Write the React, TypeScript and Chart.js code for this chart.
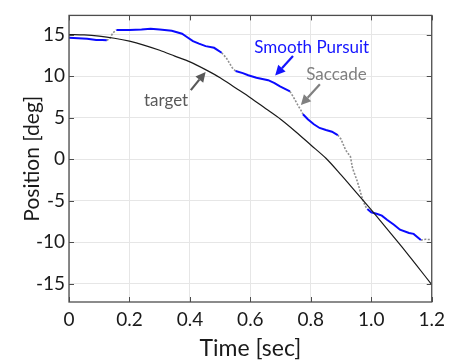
import { useEffect, useRef } from "react";
import { Chart, registerables } from "chart.js";

Chart.register(...registerables);

// ---- data ----
const targetTime = [0, 0.05, 0.1, 0.15, 0.2, 0.25, 0.3, 0.35, 0.4, 0.45, 0.5, 0.55, 0.6, 0.65, 0.7, 0.75, 0.8, 0.85, 0.9, 0.95, 1.0, 1.05, 1.1, 1.15, 1.2];
const targetPos = [15.0, 14.95, 14.8, 14.55, 14.2, 13.7, 13.1, 12.4, 11.7, 10.8, 9.8, 8.6, 7.4, 6.1, 4.8, 3.3, 1.7, 0.1, -1.9, -4.0, -6.1, -8.3, -10.5, -12.8, -15.1];

// smooth pursuit segments (null = gap between segments)
const pursuitTime = [
  0, 0.03, 0.06, 0.09, 0.11, 0.125, 0.14,
  0.157, 0.2, 0.24, 0.27, 0.3, 0.34, 0.374, 0.39, 0.41, 0.43, 0.452, 0.48, 0.505, 0.52,
  0.551, 0.575, 0.593, 0.62, 0.659, 0.68, 0.698, 0.731, 0.75,
  0.774, 0.79, 0.81, 0.829, 0.85, 0.87, 0.889, 0.93,
  0.987, 1.0, 1.02, 1.035, 1.052, 1.075, 1.095, 1.125, 1.14, 1.164,
];
const pursuitPos = [
  14.6, 14.55, 14.5, 14.35, 14.35, 14.3, null,
  15.55, 15.55, 15.6, 15.7, 15.6, 15.45, 15.1, 14.7, 14.2, 13.9, 13.6, 13.4, 12.8, null,
  10.6, 10.35, 10.1, 9.8, 9.5, 9.15, 8.75, 8.15, null,
  5.4, 4.8, 4.2, 3.75, 3.5, 3.3, 2.9, null,
  -6.0, -6.4, -6.6, -6.8, -7.3, -7.9, -8.5, -8.9, -9.0, -9.75,
];

// saccade segments (null = gap)
const saccadeTime = [
  0.125, 0.135, 0.145, 0.157, 0.17,
  0.505, 0.52, 0.53, 0.54, 0.551, 0.56,
  0.731, 0.745, 0.757, 0.767, 0.774, 0.78,
  0.889, 0.9, 0.915, 0.931, 0.938, 0.954, 0.97, 0.98, 0.987, 0.99,
  1.164, 1.18, 1.2,
];
const saccadePos = [
  14.3, 14.5, 15.2, 15.55, null,
  12.8, 12.2, 11.6, 11.0, 10.6, null,
  8.15, 7.3, 6.5, 5.9, 5.4, null,
  2.9, 2.4, 1.1, 0.3, -1.1, -2.7, -4.7, -5.65, -6.0, null,
  -9.75, -9.65, -9.7,
];

const xTicks = [0, 0.2, 0.4, 0.6, 0.8, 1.0, 1.2];
const xTickLabels = ["0", "0.2", "0.4", "0.6", "0.8", "1.0", "1.2"];
const yTicks = [-15, -10, -5, 0, 5, 10, 15];
const yTickLabels = ["-15", "-10", "-5", "0", "5", "10", "15"];

const annotationTexts = ["Smooth Pursuit", "Saccade", "target"];
const annotationColors = ["#1414ff", "#808080", "#595959"];
const annotationTextAt = [[0.803, 13.4], [0.885, 10.2], [0.321, 7.1]];
const annotationArrowFrom = [[0.741, 12.4], [0.83, 9.0], [0.403, 8.3]];
const annotationArrowTo = [[0.682, 10.06], [0.767, 6.5], [0.452, 10.5]];

const FONT = "Lato, 'Open Sans', sans-serif";

const toXY = (xs: number[], ys: (number | null)[]) => xs.map((x, i) => ({ x, y: ys[i] }));

const framePlugin = {
  id: "frame",
  afterDatasetsDraw(chart: any) {
    const { ctx, chartArea: a, scales } = chart;
    ctx.save();
    ctx.strokeStyle = "#4d4d4d";
    ctx.lineWidth = 1.3;
    ctx.strokeRect(a.left, a.top, a.right - a.left, a.bottom - a.top);
    const L = 5;
    ctx.beginPath();
    xTicks.forEach((v) => {
      const px = Math.round(scales.x.getPixelForValue(v)) + 0.5;
      ctx.moveTo(px, a.bottom);
      ctx.lineTo(px, a.bottom - L);
      ctx.moveTo(px, a.top);
      ctx.lineTo(px, a.top + L);
    });
    yTicks.forEach((v) => {
      const py = Math.round(scales.y.getPixelForValue(v)) + 0.5;
      ctx.moveTo(a.left, py);
      ctx.lineTo(a.left + L, py);
      ctx.moveTo(a.right, py);
      ctx.lineTo(a.right - L, py);
    });
    ctx.lineWidth = 1;
    ctx.stroke();
    ctx.restore();
  },
};

const annotationPlugin = {
  id: "arrows",
  afterDraw(chart: any) {
    const { ctx, scales } = chart;
    const X = (v: number) => scales.x.getPixelForValue(v);
    const Y = (v: number) => scales.y.getPixelForValue(v);
    ctx.save();
    annotationTexts.forEach((text, i) => {
      const color = annotationColors[i];
      ctx.fillStyle = color;
      ctx.strokeStyle = color;
      ctx.font = `17px ${FONT}`;
      ctx.textAlign = "center";
      ctx.textBaseline = "middle";
      ctx.fillText(text, X(annotationTextAt[i][0]), Y(annotationTextAt[i][1]));
      const x1 = X(annotationArrowFrom[i][0]);
      const y1 = Y(annotationArrowFrom[i][1]);
      const x2 = X(annotationArrowTo[i][0]);
      const y2 = Y(annotationArrowTo[i][1]);
      const ang = Math.atan2(y2 - y1, x2 - x1);
      const head = 10;
      const hw = 5;
      const bx = x2 - head * Math.cos(ang);
      const by = y2 - head * Math.sin(ang);
      ctx.lineWidth = 2.2;
      ctx.beginPath();
      ctx.moveTo(x1, y1);
      ctx.lineTo(bx, by);
      ctx.stroke();
      ctx.beginPath();
      ctx.moveTo(x2, y2);
      ctx.lineTo(bx + hw * Math.sin(ang), by - hw * Math.cos(ang));
      ctx.lineTo(bx - hw * Math.sin(ang), by + hw * Math.cos(ang));
      ctx.closePath();
      ctx.fill();
    });
    ctx.restore();
  },
};

export default function App() {
  const ref = useRef<HTMLCanvasElement | null>(null);
  useEffect(() => {
    if (!ref.current) return;
    const chart = new Chart(ref.current, {
      type: "line",
      data: {
        datasets: [
          {
            label: "target",
            data: toXY(targetTime, targetPos),
            borderColor: "#1a1a1a",
            borderWidth: 1.2,
            pointRadius: 0,
            tension: 0.3,
          },
          {
            label: "Smooth Pursuit",
            data: toXY(pursuitTime, pursuitPos),
            borderColor: "#0a0aff",
            borderWidth: 2,
            pointRadius: 0,
            spanGaps: false,
          },
          {
            label: "Saccade",
            data: toXY(saccadeTime, saccadePos),
            borderColor: "#8f8f8f",
            borderWidth: 1.6,
            borderDash: [2, 1.5],
            pointRadius: 0,
            spanGaps: false,
          },
        ] as any,
      },
      options: {
        animation: false,
        responsive: false,
        devicePixelRatio: 1,
        layout: { padding: { top: 13, right: 17, left: 0, bottom: 0 } },
        plugins: { legend: { display: false }, tooltip: { enabled: false } },
        scales: {
          x: {
            type: "linear",
            min: 0,
            max: 1.2,
            afterBuildTicks: (s: any) => {
              s.ticks = xTicks.map((value) => ({ value }));
            },
            afterFit: (s: any) => {
              s.height = 60;
            },
            ticks: {
              callback: (_v: any, i: number) => xTickLabels[i],
              color: "#1a1a1a",
              font: { family: FONT, size: 19 },
              padding: 6,
              maxRotation: 0,
              autoSkip: false,
            },
            grid: { color: "#e6e6e6", drawTicks: false, lineWidth: 1 },
            border: { display: false },
            title: {
              display: true,
              text: "Time [sec]",
              color: "#1a1a1a",
              font: { family: FONT, size: 23 },
              padding: { top: 0, bottom: 0 },
            },
          },
          y: {
            type: "linear",
            min: -17.2,
            max: 17.3,
            afterBuildTicks: (s: any) => {
              s.ticks = yTicks.map((value) => ({ value }));
            },
            afterFit: (s: any) => {
              s.width = 69;
            },
            ticks: {
              callback: (_v: any, i: number) => yTickLabels[i],
              color: "#1a1a1a",
              font: { family: FONT, size: 19 },
              padding: 4,
              autoSkip: false,
            },
            grid: { color: "#e6e6e6", drawTicks: false, lineWidth: 1 },
            border: { display: false },
            title: {
              display: true,
              text: "Position [deg]",
              color: "#1a1a1a",
              font: { family: FONT, size: 21 },
              padding: { top: 20, bottom: 0 },
            },
          },
        },
      } as any,
      plugins: [framePlugin, annotationPlugin],
    });
    return () => chart.destroy();
  }, []);
  return (
    <div style={{ position: "fixed", left: 0, top: 0, width: 451, height: 362, background: "#fff" }}>
      <canvas ref={ref} width={451} height={362} style={{ display: "block" }} />
    </div>
  );
}
